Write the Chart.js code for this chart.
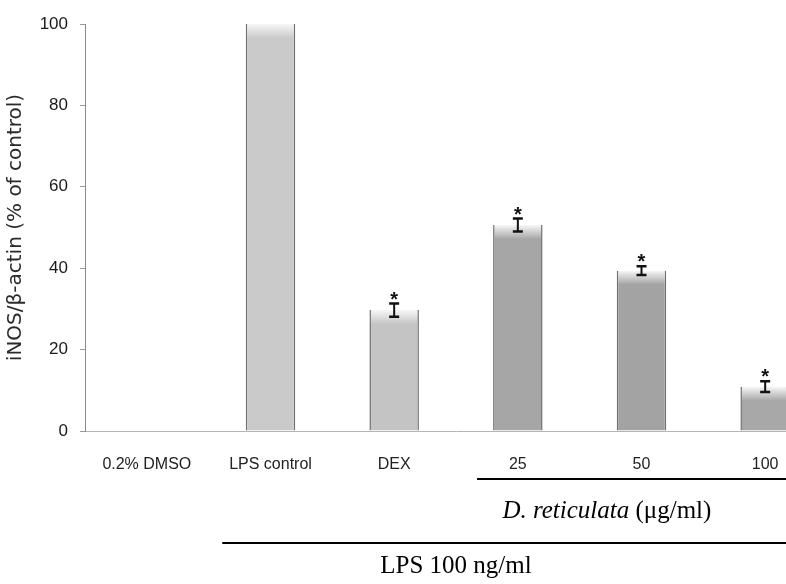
<!DOCTYPE html>
<html>
<head>
<meta charset="utf-8">
<script src="https://cdn.jsdelivr.net/npm/chart.js@4.4.1/dist/chart.umd.min.js"></script>
<style>
  html, body { margin: 0; padding: 0; background: #fff; overflow: hidden; }
  #wrap { width: 830px; height: 584px; }
</style>
</head>
<body>
<div id="wrap"><canvas id="inosChart"></canvas></div>
<script>
// values (iNOS / beta-actin, % of LPS control)
const categories = ['0.2% DMSO', 'LPS control', 'DEX', '25', '50', '100'];
const ratioValues = [0, 100, 29.7, 50.6, 39.4, 10.9];
const errorValues = [0, 0, 1.6, 1.6, 1.1, 1.3];
const significant = [false, false, true, true, true, true];
const yTicks = [0, 20, 40, 60, 80, 100];

const barColors = ['#c8c8c8', '#cacaca', '#c4c4c4', '#a6a6a6', '#a3a3a3', '#a8a8a8'];

// light "cap" at the top of each bar, like the original 3d look
function barFill(ctx) {
  const chart = ctx.chart;
  const base = barColors[ctx.dataIndex];
  if (!chart.chartArea || !chart.scales.y) return base;
  const top = chart.scales.y.getPixelForValue(ratioValues[ctx.dataIndex]);
  const g = chart.ctx.createLinearGradient(0, top, 0, top + 14);
  g.addColorStop(0, '#f7f7f7');
  g.addColorStop(1, base);
  return g;
}

const errorBars = {
  id: 'errorBars',
  afterDatasetsDraw(chart) {
    const { ctx } = chart;
    const y = chart.scales.y;
    const meta = chart.getDatasetMeta(0);
    ctx.save();
    ctx.strokeStyle = '#111';
    ctx.fillStyle = '#111';
    meta.data.forEach((bar, i) => {
      const err = errorValues[i];
      if (err > 0) {
        const hi = y.getPixelForValue(ratioValues[i] + err);
        const lo = y.getPixelForValue(ratioValues[i] - err);
        ctx.lineWidth = 2;
        ctx.beginPath();
        ctx.moveTo(bar.x, hi); ctx.lineTo(bar.x, lo);
        ctx.stroke();
        ctx.lineWidth = 2.5;
        ctx.beginPath();
        ctx.moveTo(bar.x - 5, hi); ctx.lineTo(bar.x + 5, hi);
        ctx.moveTo(bar.x - 5, lo); ctx.lineTo(bar.x + 5, lo);
        ctx.stroke();
      }
      if (significant[i]) {
        const top = y.getPixelForValue(ratioValues[i] + err);
        ctx.font = 'bold 20px "Liberation Sans"';
        ctx.textAlign = 'center';
        ctx.textBaseline = 'alphabetic';
        ctx.fillText('*', bar.x, top + 2);
      }
    });
    ctx.restore();
  }
};

// treatment group labels under the axis
const groupLabels = {
  id: 'groupLabels',
  afterDraw(chart) {
    const { ctx } = chart;
    const x = chart.scales.x;
    const bottom = chart.chartArea.bottom;
    const cat = x.getPixelForValue(1) - x.getPixelForValue(0);
    ctx.save();
    ctx.strokeStyle = '#000';
    ctx.fillStyle = '#000';
    ctx.lineWidth = 2;

    // D. reticulata bracket line
    const y1 = bottom + 48;
    ctx.beginPath();
    ctx.moveTo(x.getPixelForValue(3) - 0.33 * cat, y1);
    ctx.lineTo(chart.width, y1);
    ctx.stroke();

    const mid1 = x.getPixelForValue(3) + 0.72 * cat;
    ctx.textBaseline = 'alphabetic';
    ctx.textAlign = 'left';
    const italicPart = 'D. reticulata';
    const plainPart = ' (\u03bcg/ml)';
    ctx.font = 'italic 25px "Liberation Serif"';
    const w1 = ctx.measureText(italicPart).width;
    ctx.font = '25px "Liberation Serif"';
    const w2 = ctx.measureText(plainPart).width;
    const start = mid1 - (w1 + w2) / 2;
    ctx.font = 'italic 25px "Liberation Serif"';
    ctx.fillText(italicPart, start, bottom + 87);
    ctx.font = '25px "Liberation Serif"';
    ctx.fillText(plainPart, start + w1, bottom + 87);

    // LPS line
    const y2 = bottom + 112;
    ctx.beginPath();
    ctx.moveTo(x.getPixelForValue(1) - 0.39 * cat, y2);
    ctx.lineTo(chart.width, y2);
    ctx.stroke();

    ctx.textAlign = 'center';
    ctx.font = '25px "Liberation Serif"';
    ctx.fillText('LPS 100 ng/ml', (x.getPixelForValue(2) + x.getPixelForValue(3)) / 2, bottom + 142);
    ctx.restore();
  }
};

const ctx = document.getElementById('inosChart').getContext('2d');
new Chart(ctx, {
  type: 'bar',
  data: {
    labels: categories,
    datasets: [{
      data: ratioValues,
      backgroundColor: barFill,
      borderColor: '#6f6f6f',
      borderWidth: { left: 1.5, right: 1.5, top: 0, bottom: 0 },
      borderSkipped: false,
      categoryPercentage: 1,
      barPercentage: 0.4
    }]
  },
  options: {
    responsive: true,
    maintainAspectRatio: false,
    animation: false,
    layout: { padding: { top: 24, left: 0, right: 3, bottom: 0 } },
    plugins: {
      legend: { display: false },
      tooltip: { enabled: false }
    },
    scales: {
      x: {
        grid: { display: false, drawTicks: false },
        border: { display: true, color: '#b5b5b5', width: 1 },
        ticks: {
          padding: 24,
          color: '#222',
          font: { family: 'Liberation Sans', size: 16 },
          maxRotation: 0,
          autoSkip: false
        },
        afterFit(scale) { scale.height = 153; }
      },
      y: {
        min: 0,
        max: 100,
        afterBuildTicks(scale) { scale.ticks = yTicks.map(v => ({ value: v })); },
        grid: { drawOnChartArea: false, tickLength: 5, color: '#999' },
        border: { display: true, color: '#8a8a8a', width: 1 },
        ticks: {
          padding: 12,
          color: '#1a1a1a',
          font: { family: 'Liberation Sans', size: 17 }
        },
        title: {
          display: true,
          text: 'iNOS/\u03b2-actin (% of control)',
          color: '#2a2a2a',
          padding: { top: 4, bottom: 0 },
          font: { family: 'DejaVu Sans', size: 20 }
        },
        afterFit(scale) { scale.width = 85; }
      }
    }
  },
  plugins: [errorBars, groupLabels]
});
</script>
</body>
</html>
